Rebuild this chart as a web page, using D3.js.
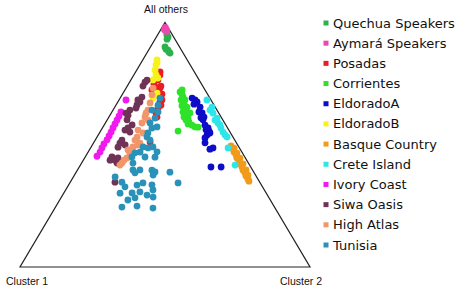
<!DOCTYPE html>
<html>
<head>
<meta charset="utf-8">
<script src="https://cdnjs.cloudflare.com/ajax/libs/d3/7.8.5/d3.min.js"></script>
<style>
  html, body { margin: 0; padding: 0; background: #fff; }
  svg { display: block; }
</style>
</head>
<body>
<svg id="chart" width="461" height="292"></svg>
<script>
// ternary coordinates per point: [cluster 1, cluster 2]; "all others" = 1 - both
var groups = ["Quechua Speakers", "Aymará Speakers", "Posadas", "Corrientes", "EldoradoA", "EldoradoB",
              "Basque Country", "Crete Island", "Ivory Coast", "Siwa Oasis", "High Atlas", "Tunisia"]

var cornerLabels = ["Cluster 1", "Cluster 2", "All others"]

var quechua = [[0.019,0.032],[0.027,0.041],[0.050,0.050],[0.046,0.067],[0.045,0.080],[0.051,0.058],
               [0.019,0.040],[0.047,0.074]]

var aymara = [[0.009,0.011],[0.010,0.018],[0.012,0.024],[0.017,0.013],[0.014,0.021]]

var posadas = [[0.118,0.084],[0.142,0.093],[0.166,0.097],[0.151,0.117],[0.170,0.115],[0.169,0.148],
               [0.199,0.151],[0.221,0.166],[0.180,0.145],[0.183,0.093],[0.144,0.116],[0.216,0.154],
               [0.296,0.193],[0.125,0.090],[0.157,0.136],[0.164,0.088],[0.183,0.155]]

var corrientes = [[0.079,0.197],[0.090,0.214],[0.099,0.230],[0.110,0.248],[0.113,0.265],[0.116,0.275],
                  [0.117,0.303],[0.110,0.317],[0.100,0.328],[0.177,0.267],[0.090,0.227],[0.097,0.249],
                  [0.099,0.271],[0.121,0.245],[0.088,0.205],[0.127,0.272],[0.121,0.286],[0.090,0.194],
                  [0.103,0.214],[0.112,0.229],[0.128,0.259],[0.128,0.287],[0.107,0.252]]

var eldoradoA = [[0.061,0.248],[0.052,0.273],[0.052,0.294],[0.057,0.313],[0.068,0.330],[0.072,0.348],
                 [0.067,0.364],[0.071,0.381],[0.085,0.375],[0.108,0.384],[0.091,0.422],[0.104,0.414],
                 [0.137,0.454],[0.102,0.489],[0.055,0.262],[0.059,0.328],[0.078,0.361],[0.067,0.267],
                 [0.066,0.300],[0.071,0.319],[0.098,0.374],[0.070,0.374]]

var eldoradoB = [[0.104,0.049],[0.118,0.056],[0.132,0.063],[0.138,0.076],[0.138,0.089],[0.159,0.076],
                 [0.183,0.114],[0.172,0.117],[0.196,0.113],[0.110,0.055]]

var basque = [[0.025,0.480],[0.024,0.493],[0.027,0.503],[0.026,0.516],[0.029,0.525],[0.028,0.538],
              [0.031,0.548],[0.030,0.561],[0.033,0.571],[0.032,0.584],[0.035,0.593],[0.034,0.606],
              [0.035,0.614],[0.019,0.495],[0.019,0.515],[0.019,0.536],[0.020,0.558],[0.022,0.581],
              [0.026,0.598]]

var crete = [[0.014,0.303],[0.024,0.334],[0.020,0.351],[0.016,0.375],[0.023,0.388],[0.023,0.409],
             [0.024,0.424],[0.020,0.448],[0.039,0.474],[0.050,0.533],[0.011,0.335],[0.027,0.372],
             [0.020,0.399],[0.023,0.437]]

var ivory = [[0.293,0.024],[0.335,0.031],[0.350,0.033],[0.365,0.034],[0.380,0.035],[0.395,0.036],
             [0.410,0.038],[0.425,0.039],[0.440,0.040],[0.459,0.038],[0.474,0.039],[0.489,0.041],
             [0.508,0.039]]

var siwa = [[0.191,0.053],[0.180,0.056],[0.206,0.054],[0.232,0.073],[0.252,0.065],[0.265,0.072],
            [0.300,0.058],[0.317,0.062],[0.330,0.068],[0.323,0.096],[0.343,0.088],[0.358,0.082],
            [0.402,0.091],[0.417,0.093],[0.388,0.113],[0.458,0.092],[0.454,0.109],[0.453,0.122],
            [0.471,0.092],[0.499,0.154],[0.249,0.076],[0.275,0.075],[0.389,0.092],[0.439,0.115],
            [0.320,0.051],[0.345,0.103]]

var highAtlas = [[0.193,0.103],[0.238,0.120],[0.262,0.124],[0.285,0.126],[0.313,0.127],[0.331,0.138],
                 [0.365,0.144],[0.388,0.146],[0.408,0.146],[0.436,0.139],[0.258,0.141],[0.302,0.150],
                 [0.333,0.160],[0.216,0.113],[0.251,0.120],[0.344,0.137],[0.388,0.133],[0.423,0.140],
                 [0.447,0.136],[0.344,0.157],[0.175,0.093]]

var tunisia = [[0.193,0.145],[0.224,0.134],[0.230,0.161],[0.241,0.186],[0.261,0.171],[0.285,0.167],
               [0.296,0.172],[0.330,0.179],[0.315,0.198],[0.296,0.213],[0.351,0.179],[0.370,0.163],
               [0.389,0.161],[0.344,0.206],[0.310,0.241],[0.398,0.177],[0.412,0.191],[0.411,0.204],
               [0.388,0.215],[0.347,0.257],[0.340,0.271],[0.353,0.271],[0.289,0.323],[0.488,0.144],
               [0.475,0.178],[0.474,0.198],[0.429,0.236],[0.404,0.252],[0.377,0.287],[0.384,0.301],
               [0.283,0.373],[0.504,0.194],[0.462,0.235],[0.433,0.260],[0.415,0.291],[0.462,0.255],
               [0.398,0.316],[0.526,0.229],[0.472,0.279],[0.421,0.338],[0.491,0.235],[0.207,0.159],
               [0.292,0.189],[0.172,0.137],[0.257,0.154],[0.292,0.237]]

var series = [quechua, aymara, posadas, corrientes, eldoradoA, eldoradoB,
              basque, crete, ivory, siwa, highAtlas, tunisia]

var colorScale = d3.scaleOrdinal()
    .domain(groups)
    .range(["#2bb24c", "#ec48b4", "#ec1c24", "#2ee22a", "#0d0dc8", "#f7f21a",
            "#f29a1a", "#2ee6ea", "#f019ee", "#6e3356", "#f3956a", "#2a92b8"])

var svg = d3.select("#chart")

// x follows (cluster2 - cluster1), y follows "all others"
var x = d3.scaleLinear().domain([-1, 1]).range([20, 310])
var y = d3.scaleLinear().domain([0, 1]).range([267, 22.5])

function px(d) { return x(d[1] - d[0]) }
function py(d) { return y(1 - d[0] - d[1]) }

var corners = [[1, 0], [0, 1], [0, 0]]

svg.append("path")
    .attr("d", d3.line().x(px).y(py)(corners) + "Z")
    .style("fill", "none")
    .style("stroke", "#222")
    .style("stroke-width", 1.2)

svg.selectAll(".corner")
    .data(corners)
  .enter().append("text")
    .attr("class", "corner")
    .attr("x", function(d, i) { return i == 0 ? px(d) + 7 : i == 1 ? px(d) - 9 : px(d) + 1 })
    .attr("y", function(d, i) { return i == 2 ? 13 : 285 })
    .attr("text-anchor", "middle")
    .style("font-family", "Liberation Sans, Arial, sans-serif")
    .style("font-size", "10.5px")
    .style("fill", "#111")
    .text(function(d, i) { return cornerLabels[i] })

var flat = []
series.forEach(function(pts, gi) {
  pts.forEach(function(p) { flat.push({g: groups[gi], v: p}) })
})

svg.append("g").selectAll(".dots")
    .data(flat)
  .enter().append("circle")
    .attr("class", "dots")
    .attr("cx", function(d) { return px(d.v) })
    .attr("cy", function(d) { return py(d.v) })
    .attr("r", 3.4)
    .style("fill", function(d) { return colorScale(d.g) })

var ly = d3.scalePoint().domain(groups).range([23, 245])

var legend = svg.append("g").selectAll(".legend")
    .data(groups)
  .enter().append("g")
    .attr("class", "legend")
    .attr("transform", function(d) { return "translate(326," + ly(d) + ")" })

legend.append("rect")
    .attr("x", -2.5).attr("y", -2.5)
    .attr("width", 5).attr("height", 5)
    .style("fill", function(d) { return colorScale(d) })

legend.append("text")
    .attr("x", 7)
    .attr("y", 4.5)
    .style("font-family", "DejaVu Sans, sans-serif")
    .style("font-size", "13px")
    .style("fill", "#111")
    .text(function(d) { return d })
</script>
</body>
</html>
